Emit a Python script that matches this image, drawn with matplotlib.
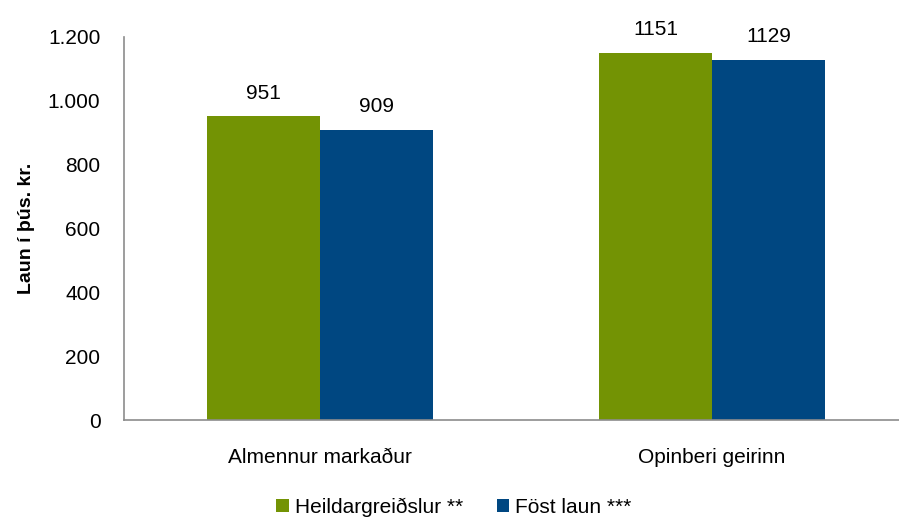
import numpy as np
import matplotlib.pyplot as plt

categories = ["Almennur markaður", "Opinberi geirinn"]
heildar = [951, 1151]
fost = [909, 1129]
series_names = ["Heildargreiðslur **", "Föst laun ***"]
yticks = [0, 200, 400, 600, 800, 1000, 1200]
ytick_labels = ["0", "200", "400", "600", "800", "1.000", "1.200"]

plt.rcParams["font.family"] = ["Liberation Sans", "DejaVu Sans"]

green = "#739304"
blue = "#004781"

fig = plt.figure(figsize=(8.99, 5.2), dpi=100)
ax = fig.add_axes([124 / 899, 1 - 420 / 520, 784 / 899, 383 / 520])

x = np.arange(len(categories))
w = 0.288
b1 = ax.bar(x - w / 2, heildar, w, color=green, label=series_names[0])
b2 = ax.bar(x + w / 2, fost, w, color=blue, label=series_names[1])

# value labels above bars
for bars, vals in [(b1, heildar), (b2, fost)]:
    for r, v in zip(bars, vals):
        ax.annotate(str(v), (r.get_x() + r.get_width() / 2, v), xytext=(0, 10),
                    textcoords="offset points", ha="center", va="bottom", fontsize=15)

ax.set_xlim(-0.5, 1.5)
ax.set_ylim(0, 1200)
ax.set_yticks(yticks)
ax.set_yticklabels(ytick_labels)
ax.set_xticks(x)
ax.set_xticklabels(categories)
ax.tick_params(axis="both", length=0, labelsize=15)
ax.tick_params(axis="y", pad=17)
ax.tick_params(axis="x", pad=20)
ax.set_ylabel("Laun í þús. kr.", fontsize=14, fontweight="bold", labelpad=9)

for s in ["top", "right"]:
    ax.spines[s].set_visible(False)
for s in ["left", "bottom"]:
    ax.spines[s].set_color("#8c8c8c")
    ax.spines[s].set_linewidth(1.2)

fig.legend(loc="lower center", bbox_to_anchor=(0.505, -0.03), ncol=2, frameon=False,
           fontsize=15, handlelength=0.6, handleheight=0.6, handletextpad=0.3,
           columnspacing=1.6)

fig.savefig("out.png", dpi=100)
